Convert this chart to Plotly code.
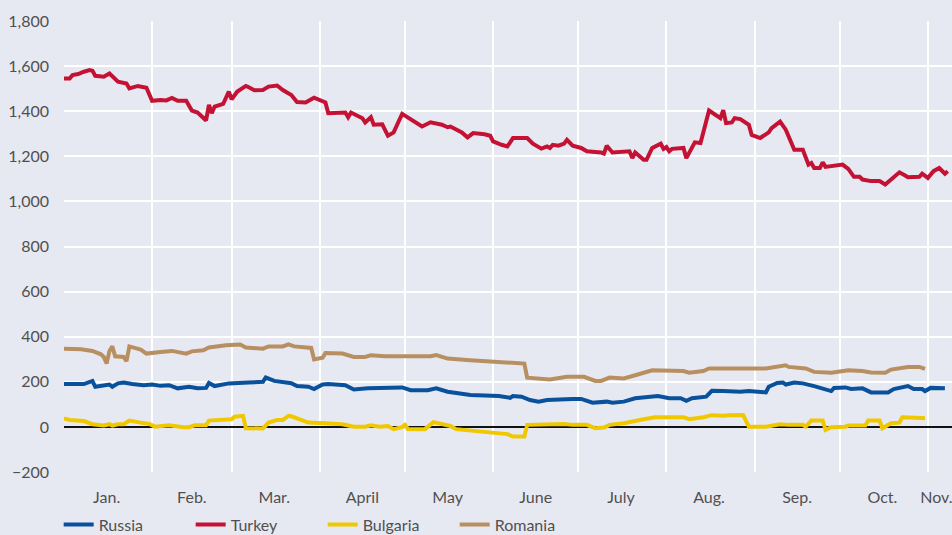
import pandas as pd
import plotly.graph_objects as go

BASE = pd.Timestamp("2014-01-01")

# Day offsets (days since Jan 1) and values
turkey_days = [0, 2, 3, 5, 7, 9, 10, 11, 14, 16, 19, 22, 23, 26, 29, 31, 34, 36, 38, 40, 43, 45, 47, 50, 51, 52, 53, 56,
               58, 59, 61, 64, 65, 67, 70, 72, 75, 77, 80, 82, 85, 88, 92, 93, 99, 100, 101, 105, 106, 108, 109, 112,
               114, 116, 119, 123, 126, 129, 133, 135, 136, 140, 142, 144, 148, 150, 151, 154, 156, 157, 158, 163,
               165, 168, 170, 171, 172, 174, 176, 177, 179, 182, 184, 189, 190, 191, 193, 199, 200, 201, 204, 205,
               207, 210, 211, 212, 213, 214, 218, 219, 222, 224, 227, 231, 232, 233, 235, 236, 238, 241, 242, 245,
               248, 249, 252, 254, 257, 260, 262, 263, 264, 266, 267, 268, 274, 276, 278, 280, 281, 284, 287, 289,
               291, 294, 296, 297, 301, 302, 304, 306, 308, 310, 311]
turkey_vals = [1545, 1545, 1560, 1565, 1575, 1582, 1579, 1557, 1553, 1567, 1531, 1523, 1501, 1512, 1504, 1446, 1450,
               1448, 1459, 1446, 1446, 1403, 1394, 1359, 1428, 1391, 1420, 1432, 1487, 1453, 1487, 1512, 1506, 1493,
               1494, 1509, 1514, 1494, 1472, 1441, 1439, 1460, 1439, 1391, 1394, 1373, 1394, 1369, 1350, 1373, 1340,
               1342, 1291, 1306, 1388, 1357, 1332, 1351, 1340, 1329, 1332, 1306, 1284, 1303, 1298, 1291, 1266, 1251,
               1244, 1262, 1281, 1281, 1256, 1234, 1244, 1237, 1251, 1247, 1256, 1273, 1247, 1237, 1222, 1217, 1212,
               1247, 1217, 1222, 1192, 1217, 1185, 1185, 1237, 1256, 1233, 1241, 1222, 1233, 1237, 1192, 1262, 1259,
               1403, 1369, 1405, 1347, 1350, 1369, 1365, 1340, 1295, 1281, 1306, 1325, 1354, 1318, 1229, 1229, 1163,
               1170, 1148, 1148, 1173, 1153, 1163, 1144, 1109, 1109, 1097, 1090, 1090, 1075, 1097, 1129, 1115, 1107,
               1109, 1123, 1104, 1134, 1148, 1123, 1134]

russia_days = [0, 4, 7, 10, 11, 16, 17, 19, 21, 24, 28, 31, 34, 37, 40, 44, 47, 50, 51, 53, 58, 65, 70, 71, 74, 80,
               82, 86, 88, 91, 93, 99, 102, 107, 113, 119, 122, 128, 131, 135, 143, 149, 153, 157, 158, 161, 164, 167,
               170, 179, 182, 186, 191, 193, 197, 201, 209, 213, 217, 219, 221, 226, 228, 232, 238, 241, 247, 248,
               251, 253, 254, 257, 260, 264, 267, 270, 271, 275, 277, 281, 284, 290, 292, 297, 299, 302, 303, 305, 310]
russia_vals = [190, 188, 190, 204, 178, 188, 178, 193, 197, 190, 185, 188, 182, 185, 171, 178, 171, 173, 195, 181,
               193, 197, 200, 219, 204, 194, 181, 178, 168, 188, 190, 185, 166, 171, 171, 175, 163, 163, 171, 156,
               141, 141, 137, 129, 137, 134, 119, 112, 119, 124, 124, 107, 112, 107, 112, 127, 137, 127, 127, 116,
               127, 134, 160, 159, 156, 159, 153, 178, 195, 197, 188, 197, 193, 181, 171, 159, 173, 175, 168, 171,
               153, 153, 168, 181, 168, 168, 159, 173, 171]

bulgaria_days = [0, 2, 7, 10, 14, 16, 17, 19, 21, 23, 27, 30, 32, 35, 37, 42, 44, 46, 50, 51, 56, 59, 60, 63, 64, 70,
                 72, 75, 77, 79, 80, 84, 86, 92, 98, 102, 106, 108, 111, 114, 116, 119, 120, 121, 127, 130, 134, 136,
                 138, 143, 152, 156, 158, 162, 163, 170, 176, 179, 184, 187, 190, 192, 197, 204, 208, 218, 220, 225,
                 228, 232, 234, 239, 241, 247, 252, 255, 260, 261, 263, 267, 268, 270, 275, 276, 282, 283, 287, 288,
                 291, 294, 295, 300, 303]
bulgaria_vals = [38, 31, 26, 12, 6, 12, 6, 12, 12, 28, 19, 13, 1, 6, 7, -1, -1, 7, 7, 28, 34, 34, 45, 49, -6, -7, 19,
                 31, 31, 49, 47, 31, 19, 16, 12, 1, 1, 7, 1, 4, -10, -1, 9, -9, -10, 21, 9, 4, -10, -16, -25, -32,
                 -43, -43, 9, 13, 13, 9, 9, -6, -3, 9, 16, 34, 43, 43, 34, 43, 52, 49, 52, 53, 1, 1, 12, 9, 9, 1, 28,
                 28, -13, -1, 1, 6, 6, 28, 28, -6, 16, 19, 43, 41, 38]

romania_days = [0, 6, 10, 13, 14, 15, 16, 17, 18, 21, 22, 23, 27, 29, 34, 38, 43, 45, 49, 51, 57, 62, 64, 70, 72, 77,
                79, 81, 87, 88, 91, 92, 98, 102, 106, 108, 113, 116, 129, 131, 135, 143, 152, 155, 158, 162, 163, 169,
                171, 177, 183, 187, 189, 192, 197, 201, 205, 207, 218, 220, 225, 227, 232, 238, 241, 247, 254, 255,
                261, 264, 268, 270, 276, 281, 284, 289, 291, 297, 301, 303]
romania_vals = [347, 344, 337, 322, 310, 281, 337, 357, 313, 310, 292, 357, 343, 325, 332, 337, 325, 335, 340, 352,
                362, 365, 352, 347, 357, 357, 366, 357, 350, 299, 307, 328, 325, 310, 310, 318, 313, 313, 313, 319,
                303, 296, 288, 288, 281, 281, 218, 215, 210, 222, 222, 204, 204, 219, 215, 229, 244, 251, 248, 240,
                248, 259, 259, 257, 259, 259, 273, 266, 259, 244, 244, 240, 251, 248, 241, 240, 254, 266, 266, 257]

month_label_dates = ["2014-01-16", "2014-02-15", "2014-03-16", "2014-04-16", "2014-05-16", "2014-06-16",
                     "2014-07-16", "2014-08-16", "2014-09-16", "2014-10-16", "2014-11-04"]
month_labels = ["Jan.", "Feb.", "Mar.", "April", "May", "June", "July", "Aug.", "Sep.", "Oct.", "Nov."]
month_starts = ["2014-02-01", "2014-03-01", "2014-04-01", "2014-05-01", "2014-06-01", "2014-07-01",
                "2014-08-01", "2014-09-01", "2014-10-01", "2014-11-01"]
y_ticks = [-200, 0, 200, 400, 600, 800, 1000, 1200, 1400, 1600, 1800]
y_labels = ["\u2212200", "0", "200", "400", "600", "800", "1,000", "1,200", "1,400", "1,600", "1,800"]
y_grid = [200, 400, 600, 800, 1000, 1200, 1400, 1600]

series = [
    ("Russia", russia_days, russia_vals, "#0a519c"),
    ("Turkey", turkey_days, turkey_vals, "#c41235"),
    ("Bulgaria", bulgaria_days, bulgaria_vals, "#f0c800"),
    ("Romania", romania_days, romania_vals, "#b88f60"),
]

BG = "#e7e9f2"
FONT = "Lato"
TXT = "#505050"

fig = go.Figure()
for name, days, vals, color in series:
    x = BASE + pd.to_timedelta(days, unit="D")
    fig.add_trace(go.Scatter(x=x, y=vals, mode="lines", name=name,
                             line=dict(color=color, width=4)))

fig.update_layout(
    width=952, height=535,
    margin=dict(l=64, r=0, t=21, b=63, autoexpand=False),
    paper_bgcolor=BG, plot_bgcolor=BG,
    font=dict(family=FONT, size=16, color=TXT),
    showlegend=True,
    legend=dict(orientation="h", x=-0.006, xanchor="left",
                y=-0.079, yanchor="top",
                font=dict(family=FONT, size=16, color=TXT),
                bgcolor="rgba(0,0,0,0)", entrywidth=87, traceorder="normal"),
    xaxis=dict(
        type="date",
        range=["2014-01-01", "2014-11-09 12:00"],
        tickmode="array", tickvals=month_label_dates, ticktext=month_labels,
        showgrid=False, ticks="", showline=False, zeroline=False,
        ticklabelstandoff=14, ticklabeloverflow="allow", automargin=False,
        minor=dict(tickmode="array", tickvals=month_starts, showgrid=True,
                   gridcolor="white", gridwidth=2, ticks=""),
    ),
    yaxis=dict(
        range=[-200, 1800],
        tickmode="array", tickvals=y_ticks, ticktext=y_labels,
        showgrid=False, ticks="", showline=False, automargin=False,
        zeroline=True, zerolinecolor="#111111", zerolinewidth=2,
        ticklabelstandoff=14,
        minor=dict(tickmode="array", tickvals=y_grid, showgrid=True,
                   gridcolor="white", gridwidth=2, ticks=""),
    ),
)

fig.write_html("out.html", config={"displayModeBar": False},
               post_script="document.body.style.margin='0';document.body.style.background='%s';" % BG)
